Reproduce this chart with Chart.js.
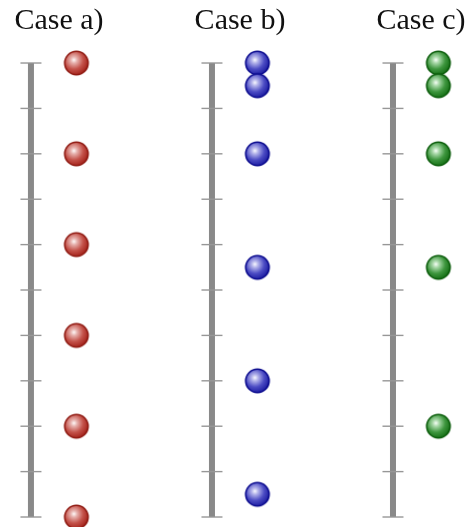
<!DOCTYPE html>
<html>
<head>
<meta charset="utf-8">
<script src="https://cdn.jsdelivr.net/npm/chart.js@4"></script>
<style>
  html, body { margin: 0; padding: 0; background: #fff; }
  #wrap { width: 471px; height: 527px; position: relative; }
</style>
</head>
<body>
<div id="wrap"><canvas id="myChart"></canvas></div>
<script>
// Panel titles
const cases = ['Case a)', 'Case b)', 'Case c)'];

// Ball positions along each rod (0 = top tick, 10 = bottom tick)
const caseA = [0, 2, 4, 6, 8, 10];
const caseB = [0, 0.5, 2, 4.5, 7, 9.5];
const caseC = [0, 0.5, 2, 4.5, 8];

// Tick marks on the rods
const tickValues = [0, 1, 2, 3, 4, 5, 6, 7, 8, 9, 10];

const ballColors = [
    { stops: ['rgb(255,250,250)', 'rgb(230,176,172)', 'rgb(196,82,74)', 'rgb(166,38,30)'], edge: 'rgb(142,24,16)' },
    { stops: ['rgb(250,250,255)', 'rgb(178,178,234)', 'rgb(76,76,196)', 'rgb(32,32,164)'], edge: 'rgb(8,8,140)' },
    { stops: ['rgb(248,255,248)', 'rgb(168,216,168)', 'rgb(62,150,62)', 'rgb(24,114,24)'], edge: 'rgb(8,90,8)' }
];

// Make a shaded sphere image for pointStyle
function makeBall(c) {
    const r = 12.5;
    const size = 28;
    const cv = document.createElement('canvas');
    cv.width = size;
    cv.height = size;
    const ctx = cv.getContext('2d');
    const cx = size / 2, cy = size / 2;
    const hx = cx - 0.2 * r, hy = cy - 0.25 * r;
    const g = ctx.createRadialGradient(hx, hy, 0, hx, hy, 1.2 * r);
    g.addColorStop(0, c.stops[0]);
    g.addColorStop(0.22, c.stops[1]);
    g.addColorStop(0.62, c.stops[2]);
    g.addColorStop(1, c.stops[3]);
    ctx.beginPath();
    ctx.arc(cx, cy, r - 0.8, 0, Math.PI * 2);
    ctx.fillStyle = g;
    ctx.fill();
    ctx.lineWidth = 1.6;
    ctx.strokeStyle = c.edge;
    ctx.stroke();
    return cv;
}

const ballOffset = 0.251;   // ball column relative to rod
const titleOffset = 0.155;  // title centre relative to rod
const titleY = -0.74;

const allBalls = [caseA, caseB, caseC];
const datasets = [];

allBalls.forEach((vals, i) => {
    // rod
    datasets.push({
        data: [{ x: i, y: tickValues[0] }, { x: i, y: tickValues[tickValues.length - 1] }],
        showLine: true,
        borderColor: '#898989',
        borderWidth: 6,
        borderCapStyle: 'butt',
        pointRadius: 0,
        order: 3
    });
    // ticks
    datasets.push({
        data: tickValues.map(v => ({ x: i, y: v })),
        pointStyle: 'line',
        pointRadius: 10.5,
        borderColor: '#979797',
        borderWidth: 1.4,
        order: 2
    });
    // balls
    datasets.push({
        data: vals.map(v => ({ x: i + ballOffset, y: v })),
        pointStyle: makeBall(ballColors[i]),
        pointRadius: 13,
        order: 1,
        clip: false
    });
});

const titlePlugin = {
    id: 'caseTitles',
    afterDraw(chart) {
        const ctx = chart.ctx;
        const xs = chart.scales.x, ys = chart.scales.y;
        ctx.save();
        ctx.font = '30px "Liberation Serif", serif';
        ctx.fillStyle = '#111';
        ctx.textAlign = 'center';
        ctx.textBaseline = 'alphabetic';
        cases.forEach((t, i) => {
            ctx.fillText(t, xs.getPixelForValue(i + titleOffset), ys.getPixelForValue(titleY));
        });
        ctx.restore();
    }
};

const myChart = document.getElementById('myChart');

new Chart(myChart, {
    type: 'scatter',
    data: { datasets: datasets },
    options: {
        responsive: true,
        maintainAspectRatio: false,
        animation: false,
        layout: { padding: 0, autoPadding: false },
        scales: {
            x: { type: 'linear', display: false, min: -0.171, max: 2.431 },
            y: { type: 'linear', display: false, reverse: true, min: -1.388, max: 10.22 }
        },
        plugins: {
            legend: { display: false },
            tooltip: { enabled: false }
        }
    },
    plugins: [titlePlugin]
});
</script>
</body>
</html>
